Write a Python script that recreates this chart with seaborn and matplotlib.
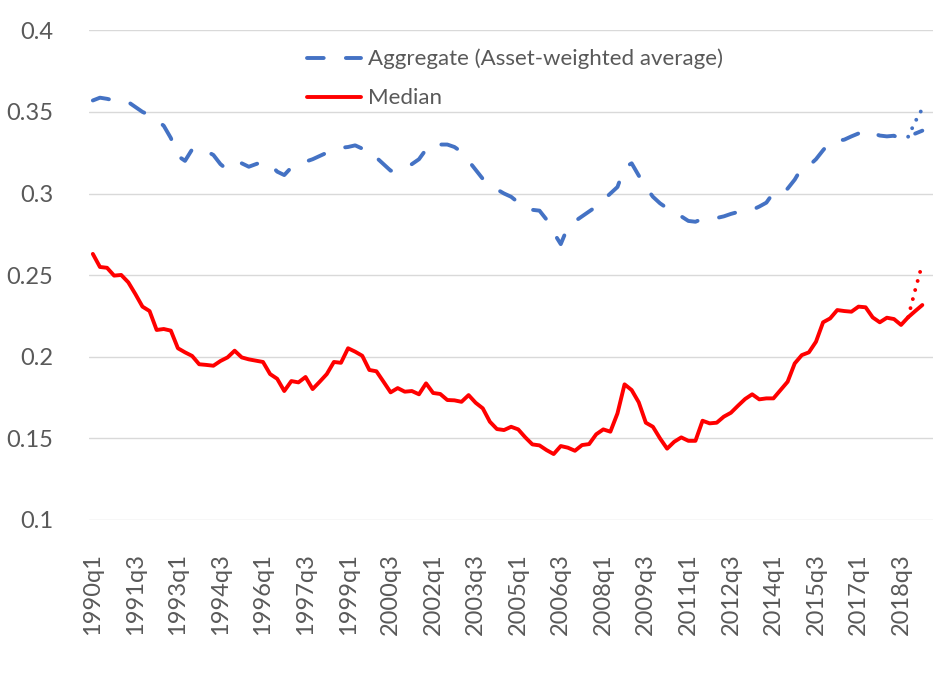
import numpy as np
import pandas as pd
import matplotlib
matplotlib.use("Agg")
import matplotlib.pyplot as plt
import seaborn as sns

# quarterly categories 1990q1 .. 2019q2
quarters = [f"{y}q{q}" for y in range(1990, 2020) for q in range(1, 5)][:118]

aggregate = [
    0.357, 0.3587, 0.358, 0.357, 0.357, 0.356, 0.353, 0.350, 0.348, 0.345,
    0.3415, 0.334, 0.323, 0.320, 0.327, 0.328, 0.326, 0.3236, 0.318, 0.3144,
    0.316, 0.3185, 0.3164, 0.318, 0.3195, 0.318, 0.3134, 0.3113, 0.316, 0.318,
    0.3195, 0.321, 0.323, 0.325, 0.3265, 0.328, 0.3285, 0.3295, 0.3275, 0.327,
    0.322, 0.318, 0.314, 0.314, 0.316, 0.318, 0.321, 0.327, 0.331, 0.330,
    0.330, 0.3285, 0.3255, 0.320, 0.3145, 0.309, 0.306, 0.3025, 0.300, 0.298,
    0.2945, 0.2905, 0.290, 0.2895, 0.284, 0.276, 0.269, 0.2795, 0.283, 0.286,
    0.289, 0.292, 0.296, 0.300, 0.304, 0.316, 0.3185, 0.311, 0.304, 0.298,
    0.294, 0.291, 0.2895, 0.286, 0.2832, 0.2827, 0.2845, 0.284, 0.285, 0.286,
    0.2875, 0.2887, 0.2889, 0.290, 0.292, 0.2944, 0.3005, 0.300, 0.303, 0.3085,
    0.3158, 0.317, 0.321, 0.3265, 0.3317, 0.3322, 0.333, 0.335, 0.3368, 0.339,
    0.337, 0.3355, 0.335, 0.3354, 0.3332, 0.3348, 0.3367, 0.3385,
]

median = [
    0.263, 0.255, 0.2545, 0.2497, 0.2501, 0.2456, 0.2384, 0.2307, 0.228, 0.2164,
    0.217, 0.216, 0.2052, 0.2027, 0.2005, 0.1954, 0.195, 0.1945, 0.1974, 0.1996,
    0.2037, 0.1996, 0.1984, 0.1976, 0.1968, 0.1894, 0.1865, 0.179, 0.1851, 0.1843,
    0.1876, 0.1802, 0.1847, 0.1894, 0.1968, 0.1963, 0.2052, 0.2031, 0.2006, 0.1919,
    0.1911, 0.1847, 0.1782, 0.1808, 0.1786, 0.179, 0.177, 0.1837, 0.1778, 0.1772,
    0.1735, 0.1733, 0.1724, 0.1765, 0.1718, 0.1684, 0.1602, 0.1557, 0.1551, 0.1571,
    0.1555, 0.1506, 0.1463, 0.1457, 0.1428, 0.1404, 0.1453, 0.1443, 0.1424, 0.1459,
    0.1465, 0.1525, 0.1555, 0.1541, 0.1653, 0.1831, 0.1796, 0.1721, 0.1596, 0.1571,
    0.150, 0.1437, 0.1479, 0.1506, 0.1485, 0.1485, 0.1608, 0.1592, 0.1596, 0.1633,
    0.1657, 0.170, 0.1741, 0.177, 0.1739, 0.1745, 0.1745, 0.1796, 0.1847, 0.1959,
    0.201, 0.2027, 0.2092, 0.2211, 0.2235, 0.2286, 0.228, 0.2276, 0.2307, 0.2303,
    0.2241, 0.2211, 0.2239, 0.2231, 0.2195, 0.2242, 0.228, 0.2317,
]

# dotted alternative paths over the last three quarters
alt_quarters = ["2018q4", "2019q1", "2019q2"]
aggregate_alt = [0.3348, 0.344, 0.352]
median_alt = [0.2242, 0.241, 0.257]

ytick_vals = [0.1, 0.15, 0.2, 0.25, 0.3, 0.35, 0.4]
ytick_labels = ["0.1", "0.15", "0.2", "0.25", "0.3", "0.35", "0.4"]

df = pd.DataFrame({"pos": np.arange(len(quarters)), "quarter": quarters,
                   "aggregate": aggregate, "median": median})
alt = pd.DataFrame({"pos": [quarters.index(q) for q in alt_quarters],
                    "aggregate": aggregate_alt, "median": median_alt})

sns.set_theme(style="white")
plt.rcParams["font.family"] = ["Lato", "DejaVu Sans"]

blue = "#4472C4"
red = "#FF0000"
grey = "#595959"

fig = plt.figure(figsize=(9.42, 6.88), dpi=100)
ax = fig.add_axes([0.0948, 0.2442, 0.8956, 0.7118])

sns.lineplot(data=df, x="pos", y="aggregate", ax=ax, color=blue, lw=2.8,
             linestyle=(0, (4.3, 5.7)), dash_capstyle="round",
             label="Aggregate (Asset-weighted average)")
sns.lineplot(data=df, x="pos", y="median", ax=ax, color=red, lw=2.8,
             solid_capstyle="round", label="Median")
sns.lineplot(data=alt, x="pos", y="aggregate", ax=ax, color=blue, lw=2.8,
             linestyle=(0, (0.01, 2.4)), dash_capstyle="round", label="_nolegend_")
sns.lineplot(data=alt, x="pos", y="median", ax=ax, color=red, lw=2.8,
             linestyle=(0, (0.01, 2.4)), dash_capstyle="round", label="_nolegend_")

ax.set_xlim(-0.5, 118.5)
ax.set_ylim(0.1, 0.4)
ax.set_yticks(ytick_vals)
ax.set_yticklabels(ytick_labels)
ax.set_xticks(df["pos"][::6])
ax.set_xticklabels(df["quarter"][::6], rotation=90)
ax.tick_params(axis="y", length=0, pad=26, labelsize=17, labelcolor=grey)
ax.tick_params(axis="x", length=0, pad=24, labelsize=17, labelcolor=grey)
ax.set_xlabel("")
ax.set_ylabel("")
ax.grid(axis="y", color="#D9D9D9", lw=1.0)
ax.grid(axis="x", visible=False)
ax.set_axisbelow(True)
for s in ax.spines.values():
    s.set_visible(False)

leg = ax.legend(loc="upper left", bbox_to_anchor=(0.326, 0.929),
                bbox_transform=fig.transFigure, frameon=False, fontsize=16,
                handlelength=2.44, handletextpad=0.3, labelspacing=0.85,
                borderpad=0, borderaxespad=0)
for t in leg.get_texts():
    t.set_color(grey)

fig.savefig("out.png", dpi=100)
